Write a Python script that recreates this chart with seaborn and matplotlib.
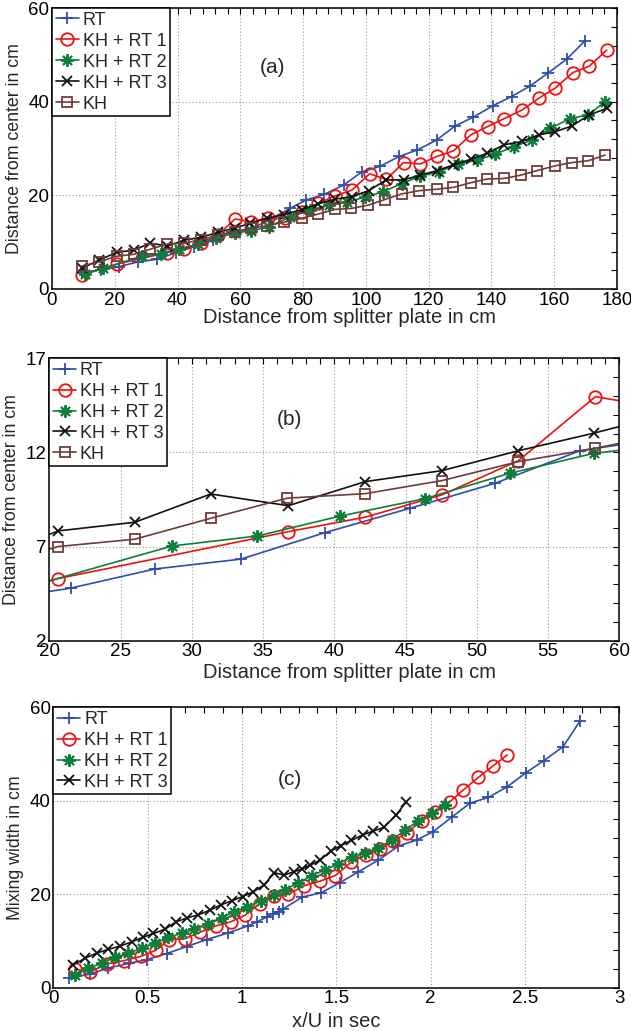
import numpy as np
import pandas as pd
import matplotlib
matplotlib.use("Agg")
import matplotlib.pyplot as plt
from matplotlib.ticker import MultipleLocator, FuncFormatter
import seaborn as sns

# ---------------- data: panels (a) and (b) (distance from splitter plate, cm) ----------------
rt_x = [9.6, 15.55, 21.5, 27.42, 33.43, 39.35, 45.3, 51.28, 57.24, 63.5, 69.8, 75.8, 80.9, 86.7,
        92.9, 98.7, 104.5, 110.6, 116.4, 122.5, 128.4, 134.2, 140.4, 146.4, 152.2, 158.0, 164.0, 169.8]
rt_y = [3.5, 4.1, 4.79, 5.81, 6.33, 7.74, 9.03, 10.36, 12.09, 12.8, 15.0, 17.2, 19.0, 20.2,
        22.2, 25.0, 26.2, 28.3, 29.7, 31.8, 34.8, 36.7, 39.1, 41.1, 43.3, 46.1, 49.1, 53.0]

kr1_x = [9.6, 20.63, 36.77, 42.18, 47.54, 52.92, 58.32, 63.5, 68.8, 74.2, 79.6, 84.9, 90.2, 95.5,
         101.2, 106.5, 112.0, 117.3, 122.6, 127.9, 133.4, 138.8, 144.1, 149.7, 155.0, 160.3, 165.9,
         171.2, 176.7]
kr1_y = [3.0, 5.3, 7.79, 8.56, 9.74, 11.56, 14.96, 14.3, 15.2, 15.1, 16.5, 18.3, 19.9, 21.1,
         24.6, 23.4, 27.0, 26.7, 28.3, 29.5, 32.9, 34.7, 36.4, 38.2, 40.7, 42.9, 46.2, 47.6, 51.0]

kr2_x = [10.5, 16.4, 28.62, 34.6, 40.42, 46.39, 52.3, 58.2, 63.3, 69.0, 75.9, 82.2, 88.1, 93.9,
         99.8, 105.6, 111.4, 117.3, 123.2, 129.2, 135.4, 141.2, 147.1, 152.9, 158.7, 165.1, 170.9, 176.2]
kr2_y = [3.2, 4.4, 7.03, 7.56, 8.62, 9.55, 10.89, 11.95, 12.4, 13.3, 15.4, 16.9, 17.9, 18.6,
         19.6, 20.8, 22.5, 24.1, 25.0, 26.7, 27.5, 28.8, 30.4, 31.8, 34.3, 36.4, 37.2, 40.0]

kr3_x = [9.5, 15.1, 20.63, 26.0, 31.33, 36.77, 42.18, 47.54, 52.92, 58.2, 63.2, 68.5, 74.0, 79.5,
         84.9, 90.2, 95.5, 100.9, 106.5, 112.0, 117.3, 122.8, 127.9, 133.4, 138.7, 144.0, 149.7,
         155.0, 160.3, 165.6, 171.2, 176.9]
kr3_y = [4.4, 6.2, 7.83, 8.29, 9.79, 9.17, 10.45, 11.03, 12.09, 13.02, 14.0, 15.1, 15.9, 16.9,
         18.2, 19.2, 19.7, 21.0, 23.3, 23.3, 24.3, 25.3, 26.5, 27.7, 29.0, 30.8, 31.5, 32.9, 33.6,
         34.8, 37.2, 38.6]

kh_x = [9.5, 15.1, 20.63, 26.0, 31.33, 36.7, 42.18, 47.54, 52.92, 58.32, 63.3, 68.6, 74.0, 79.5,
        84.8, 90.1, 95.4, 100.7, 106.0, 111.4, 117.0, 122.6, 127.9, 133.4, 138.7, 144.0, 149.3,
        154.6, 160.3, 165.6, 170.9, 176.2]
kh_y = [4.9, 5.8, 7.0, 7.39, 8.5, 9.57, 9.81, 10.5, 11.51, 12.22, 13.0, 13.5, 14.3, 15.1,
        16.0, 17.0, 17.2, 17.9, 19.1, 20.3, 21.0, 21.3, 21.7, 22.7, 23.5, 23.6, 24.3, 25.3, 26.3,
        27.0, 27.4, 28.6]

# ---------------- data: panel (c) (x/U in sec) ----------------
c_rt_x = [0.085, 0.195, 0.29, 0.40, 0.495, 0.60, 0.707, 0.813, 0.925, 1.03, 1.08, 1.135, 1.165,
          1.195, 1.22, 1.32, 1.42, 1.52, 1.617, 1.723, 1.829, 1.926, 2.014, 2.112, 2.209, 2.306,
          2.406, 2.505, 2.601, 2.703, 2.792]
c_rt_y = [2.1, 2.9, 4.2, 5.2, 6.0, 7.3, 8.8, 10.3, 11.7, 13.2, 14.1, 15.2, 15.8, 16.3, 16.9, 19.4,
          20.3, 22.5, 24.8, 27.3, 30.3, 31.6, 33.4, 36.5, 39.5, 40.7, 43.0, 46.0, 48.6, 51.6, 57.1]

c_kr1_x = [0.115, 0.195, 0.287, 0.375, 0.464, 0.543, 0.614, 0.698, 0.778, 0.86, 0.94, 1.016,
           1.094, 1.17, 1.246, 1.328, 1.414, 1.495, 1.578, 1.656, 1.73, 1.802, 1.876, 1.952,
           2.023, 2.103, 2.173, 2.253, 2.329, 2.406]
c_kr1_y = [4.0, 3.4, 5.1, 5.8, 6.7, 8.0, 10.3, 10.5, 11.9, 13.2, 14.1, 15.5, 18.0, 19.6, 20.0,
           21.8, 22.8, 24.0, 26.8, 28.4, 29.7, 31.4, 33.2, 35.7, 37.5, 39.8, 42.3, 45.0, 47.4, 49.8]

c_kr2_x = [0.115, 0.186, 0.256, 0.327, 0.398, 0.468, 0.539, 0.61, 0.68, 0.746, 0.822, 0.893,
           0.958, 1.028, 1.099, 1.17, 1.228, 1.299, 1.37, 1.44, 1.511, 1.582, 1.652, 1.723,
           1.794, 1.864, 1.935, 2.006, 2.076]
c_kr2_y = [2.7, 4.2, 5.2, 6.5, 7.4, 8.4, 9.5, 10.8, 11.6, 12.5, 13.6, 14.9, 16.3, 17.2, 18.6,
           19.8, 21.0, 22.4, 24.0, 25.2, 26.5, 28.0, 28.8, 29.9, 31.6, 33.7, 35.7, 37.4, 39.1]

c_kr3_x = [0.106, 0.168, 0.23, 0.292, 0.354, 0.415, 0.477, 0.53, 0.592, 0.65, 0.707, 0.769,
           0.83, 0.887, 0.946, 1.004, 1.06, 1.117, 1.172, 1.222, 1.275, 1.317, 1.361, 1.414,
           1.47, 1.524, 1.58, 1.64, 1.694, 1.752, 1.816, 1.871]
c_kr3_y = [4.9, 6.3, 7.4, 8.2, 8.9, 9.8, 10.8, 11.6, 12.5, 14.1, 14.9, 15.6, 16.6, 17.7, 18.6,
           19.5, 20.5, 22.0, 24.6, 24.1, 24.8, 25.4, 26.2, 27.3, 29.2, 30.4, 31.5, 32.7, 33.5,
           34.3, 36.9, 39.8]

labels = ["RT", "KH + RT 1", "KH + RT 2", "KH + RT 3", "KH"]

# ---------------- styling ----------------
sns.set_style("white")
plt.rcParams['font.family'] = ['Liberation Sans', 'DejaVu Sans']

STYLES = {
    "RT":        dict(color="#2F4DAA", marker="+", ms=9, mew=1.3),
    "KH + RT 1": dict(color="#EE1111", marker="o", ms=9, mew=1.3),
    "KH + RT 2": dict(color="#0E7E3A", marker=(8, 2, 0), ms=9, mew=1.4),
    "KH + RT 3": dict(color="#111111", marker="x", ms=7, mew=1.3),
    "KH":        dict(color="#6E3C3C", marker="s", ms=7.5, mew=1.3),
}


def draw_series(ax, name, x, y):
    st = STYLES[name]
    df = pd.DataFrame({"x": x, "y": y})
    sns.lineplot(data=df, x="x", y="y", ax=ax, estimator=None, sort=False, label=name,
                 color=st["color"], linewidth=1.2, marker=st["marker"],
                 markersize=st["ms"], markeredgewidth=st["mew"],
                 markeredgecolor=st["color"], markerfacecolor="none")


def style_axes(ax, xlim, ylim, xmaj, xmin, ymaj, ymin, yticks=None):
    ax.set_xlim(*xlim)
    ax.set_ylim(*ylim)
    ax.xaxis.set_major_locator(MultipleLocator(xmaj))
    ax.xaxis.set_minor_locator(MultipleLocator(xmin))
    if yticks is not None:
        ax.set_yticks(yticks)
    else:
        ax.yaxis.set_major_locator(MultipleLocator(ymaj))
    ax.yaxis.set_minor_locator(MultipleLocator(ymin))
    ax.xaxis.set_major_formatter(FuncFormatter(lambda v, p: "%g" % v))
    ax.yaxis.set_major_formatter(FuncFormatter(lambda v, p: "%g" % v))
    ax.tick_params(which="both", direction="in", top=True, right=True, length=4,
                   width=0.8, labelsize=13.5, pad=2, colors="black")
    ax.grid(True, which="major", linestyle=(0, (1, 2)), color="#9a9a9a", linewidth=0.8)
    for s in ax.spines.values():
        s.set_color("black")
        s.set_linewidth(1.1)
    leg = ax.legend(loc="upper left", borderaxespad=0, fontsize=13, frameon=True,
                    fancybox=False, framealpha=1, edgecolor="black", handlelength=1.3,
                    handletextpad=0.2, labelspacing=0.22, borderpad=0.2, numpoints=1)
    leg.get_frame().set_linewidth(1.1)


fig = plt.figure(figsize=(6.31, 10.31), dpi=100)

# panel (a)
ax_a = fig.add_axes([0.0824, 0.7197, 0.8954, 0.2725])
for name, x, y in zip(labels, [rt_x, kr1_x, kr2_x, kr3_x, kh_x], [rt_y, kr1_y, kr2_y, kr3_y, kh_y]):
    draw_series(ax_a, name, x, y)
style_axes(ax_a, (0, 180), (0, 60), 20, 4, 20, 4)
ax_a.set_xlabel("Distance from splitter plate in cm", fontsize=14.5)
ax_a.xaxis.set_label_coords(0.526, -0.068)
ax_a.set_ylabel("Distance from center in cm", fontsize=12.8)
ax_a.yaxis.set_label_coords(-0.051, 0.5)
ax_a.text(0.391, 0.79, "(a)", transform=ax_a.transAxes, fontsize=15, ha="center", va="center")

# panel (b)
ax_b = fig.add_axes([0.0781, 0.3786, 0.9034, 0.2739])
for name, x, y in zip(labels, [rt_x, kr1_x, kr2_x, kr3_x, kh_x], [rt_y, kr1_y, kr2_y, kr3_y, kh_y]):
    draw_series(ax_b, name, x, y)
style_axes(ax_b, (20, 60), (2, 17), 5, 1, 5, 1, yticks=[2, 7, 12, 17])
ax_b.set_xlabel("Distance from splitter plate in cm", fontsize=14.5)
ax_b.xaxis.set_label_coords(0.526, -0.078)
ax_b.set_ylabel("Distance from center in cm", fontsize=12.8)
ax_b.yaxis.set_label_coords(-0.051, 0.5)
ax_b.text(0.422, 0.782, "(b)", transform=ax_b.transAxes, fontsize=15, ha="center", va="center")

# panel (c)
ax_c = fig.add_axes([0.0845, 0.042, 0.897, 0.272])
for name, x, y in zip(labels[:4], [c_rt_x, c_kr1_x, c_kr2_x, c_kr3_x],
                      [c_rt_y, c_kr1_y, c_kr2_y, c_kr3_y]):
    draw_series(ax_c, name, x, y)
style_axes(ax_c, (0, 3), (0, 60), 0.5, 0.1, 20, 4)
ax_c.set_xlabel("x/U in sec", fontsize=14.5)
ax_c.xaxis.set_label_coords(0.5, -0.088)
ax_c.set_ylabel("Mixing width in cm", fontsize=12.8)
ax_c.yaxis.set_label_coords(-0.052, 0.5)
ax_c.text(0.418, 0.741, "(c)", transform=ax_c.transAxes, fontsize=15, ha="center", va="center")

fig.savefig("out.png", dpi=100)
